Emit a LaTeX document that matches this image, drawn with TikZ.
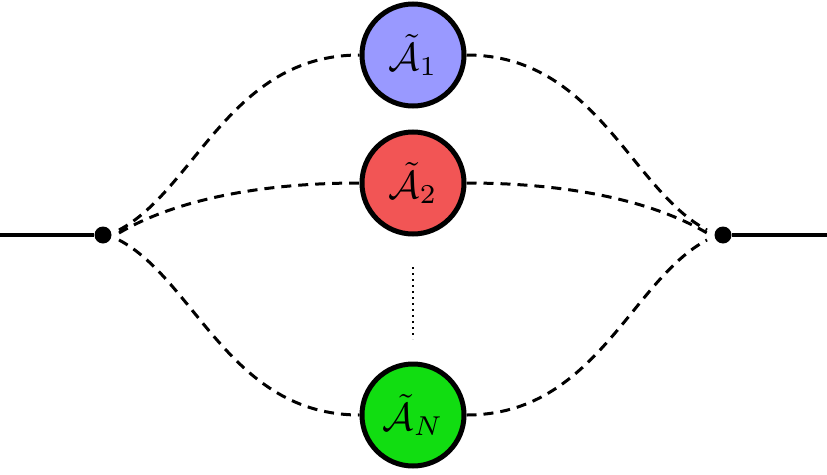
\documentclass[tikz,border=0pt]{standalone}
\usepackage{amsmath}
\definecolor{cblue}{RGB}{153,153,255}
\definecolor{cred}{RGB}{242,85,85}
\definecolor{cgreen}{RGB}{17,221,17}
\newcommand{\bigtxt}[1]{\scalebox{3.9}{$#1$}}
\begin{document}
\begin{tikzpicture}[x=1pt,y=-1pt,
  blob/.style={circle,draw=black,line width=5pt,minimum size=102pt,inner sep=0pt},
  dot/.style={circle,fill=black,minimum size=17pt,inner sep=0pt},
  dline/.style={line width=3pt,dash pattern=on 10pt off 7pt},
  sline/.style={line width=3.2pt}]
\useasboundingbox (0,0) rectangle (827,474);
\coordinate (L) at (0,235);
\coordinate (R) at (827,235);
\node[dot] (dl) at (103,235) {};
\node[dot] (dr) at (723,235) {};
\node[blob,fill=cblue] (a1) at (413,55) {\bigtxt{\tilde{\mathcal{A}}_1}};
\node[blob,fill=cred] (a2) at (413,183) {\bigtxt{\tilde{\mathcal{A}}_2}};
\node[blob,fill=cgreen] (an) at (413,415) {\bigtxt{\tilde{\mathcal{A}}_N}};
\coordinate (d1) at (413,267);
\coordinate (d2) at (413,339);
\draw[sline] (L) -- (dl);
\draw[sline] (dr) -- (R);
\draw[line width=1.8pt,dash pattern=on 1.8pt off 4.2pt] (d1) -- (d2);
\draw[dline] (dl.center) ++(16,-5) .. controls (195,190) and (230,55) .. (a1.west);
\draw[dline] (dl.center) ++(16,-2) .. controls (175,200) and (260,183) .. (a2.west);
\draw[dline] (dl.center) ++(16,5) .. controls (195,280) and (230,415) .. (an.west);
\draw[dline] (a1.east) .. controls (596,55) and (631,190) .. ([shift={(-16,-5)}]dr.center);
\draw[dline] (a2.east) .. controls (566,183) and (651,200) .. ([shift={(-16,-2)}]dr.center);
\draw[dline] (an.east) .. controls (596,415) and (631,280) .. ([shift={(-16,5)}]dr.center);
\end{tikzpicture}
\end{document}
